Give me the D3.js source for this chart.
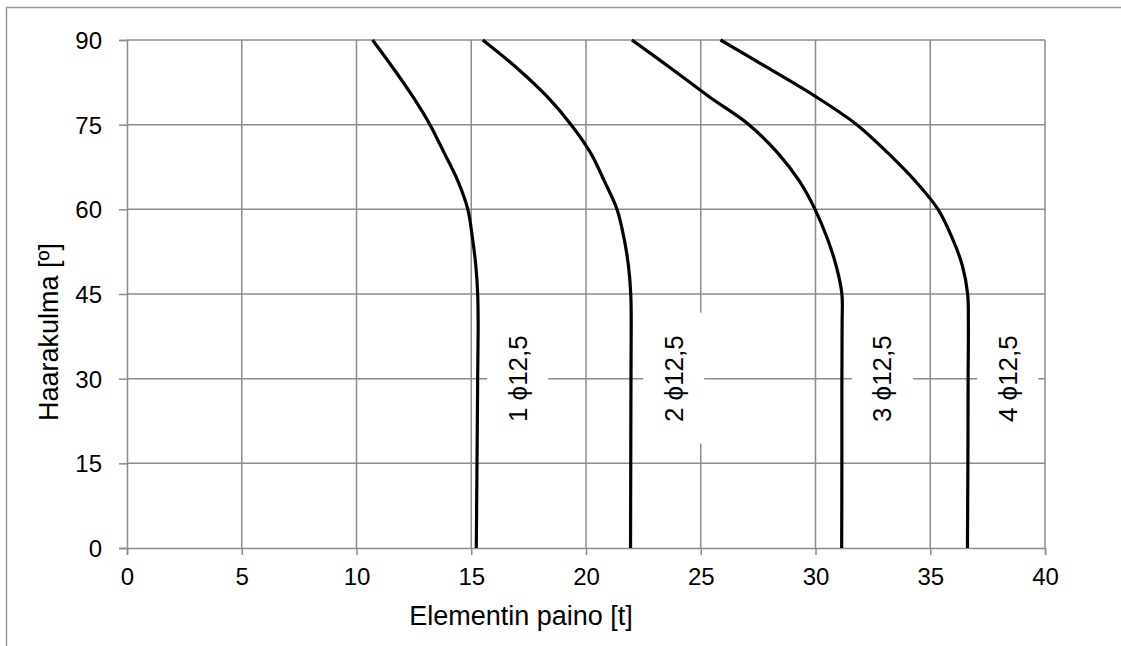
<!DOCTYPE html>
<html>
<head>
<meta charset="utf-8">
<script src="https://cdn.jsdelivr.net/npm/d3@7"></script>
<style>
  body { margin: 0; background: #fff; }
  text { font-family: "Liberation Sans", Arial, sans-serif; fill: #000; }
</style>
</head>
<body>
<svg id="chart" width="1121" height="646"></svg>
<script>
// angle (deg) -> element weight (t) for each strand count
const angles = [0, 15, 30, 40, 45, 50, 55, 60, 65, 70, 75, 80, 85, 90]
const series1 = [15.22, 15.25, 15.28, 15.3, 15.28, 15.2, 15.05, 14.85, 14.42, 13.82, 13.2, 12.45, 11.6, 10.7]
const series2 = [21.94, 21.95, 21.96, 21.97, 21.95, 21.85, 21.65, 21.35, 20.8, 20.2, 19.35, 18.3, 17.0, 15.5]
const series3 = [31.14, 31.15, 31.15, 31.16, 31.15, 30.9, 30.5, 29.98, 29.3, 28.35, 27.1, 25.35, 23.7, 22.0]
const series4 = [36.62, 36.64, 36.65, 36.66, 36.63, 36.4, 35.95, 35.34, 34.35, 33.15, 31.8, 30.0, 27.95, 25.86]
const seriesLabels = ['1 \u03D512,5', '2 \u03D512,5', '3 \u03D512,5', '4 \u03D512,5']
const labelX = [17.0, 23.8, 32.9, 38.35]
const labelY = 30
const xTicks = [0, 5, 10, 15, 20, 25, 30, 35, 40]
const yTicks = [0, 15, 30, 45, 60, 75, 90]

const allSeries = [series1, series2, series3, series4]

const margin = { left: 127, top: 40, right: 1045, bottom: 548 }
const gridColor = '#8c8c8c'

const svg = d3.select('#chart')

// outer frame
svg.append('rect')
    .attr('x', 6.5).attr('y', 7.5)
    .attr('width', 1200).attr('height', 700)
    .attr('fill', 'none')
    .attr('stroke', '#9a9a9a')
    .attr('stroke-width', 1.5)

const x = d3.scaleLinear().domain([0, 40]).range([margin.left, margin.right])
const y = d3.scaleLinear().domain([0, 90]).range([margin.bottom, margin.top])

// grid
const grid = svg.append('g')
grid.selectAll('line.v')
    .data(xTicks.slice(1))
    .enter()
    .append('line')
    .attr('x1', d => x(d)).attr('x2', d => x(d))
    .attr('y1', y(0)).attr('y2', y(90))
    .attr('stroke', gridColor).attr('stroke-width', 1.5)
grid.selectAll('line.h')
    .data(yTicks.slice(1))
    .enter()
    .append('line')
    .attr('x1', x(0)).attr('x2', x(40))
    .attr('y1', d => y(d)).attr('y2', d => y(d))
    .attr('stroke', gridColor).attr('stroke-width', 1.5)

// axes
const xAxis = svg.append('g')
    .attr('transform', `translate(0,${y(0)})`)
    .call(d3.axisBottom(x).tickValues(xTicks).tickSize(7).tickPadding(13))
const yAxis = svg.append('g')
    .attr('transform', `translate(${x(0)},0)`)
    .call(d3.axisLeft(y).tickValues(yTicks).tickSize(8).tickPadding(17))
;[xAxis, yAxis].forEach(a => {
    a.select('.domain').attr('stroke', gridColor).attr('stroke-width', 1.5)
    a.selectAll('.tick line').attr('stroke', gridColor).attr('stroke-width', 1.5)
    a.selectAll('.tick text')
        .style('font-family', '"Liberation Sans", Arial, sans-serif')
        .style('font-size', '24px')
        .attr('fill', '#000')
})
yAxis.selectAll('.tick text').attr('dy', '0.36em')

// curves
const line = d3.line()
    .x(d => x(d[0]))
    .y(d => y(d[1]))
    .curve(d3.curveCatmullRom.alpha(0.5))

svg.append('g')
    .selectAll('path')
    .data(allSeries.map(s => s.map((v, i) => [v, angles[i]])))
    .enter()
    .append('path')
    .attr('d', line)
    .attr('fill', 'none')
    .attr('stroke', '#000')
    .attr('stroke-width', 3.2)

// series labels with white boxes
const labels = svg.append('g')
    .selectAll('g')
    .data(seriesLabels)
    .enter()
    .append('g')
    .attr('transform', (d, i) => `translate(${x(labelX[i])},${y(labelY)}) rotate(-90)`)
labels.append('rect')
    .attr('x', -65).attr('y', -30)
    .attr('width', 131).attr('height', 61)
    .attr('fill', '#fff')
labels.append('text')
    .attr('text-anchor', 'middle')
    .attr('dy', '0.36em')
    .style('font-size', '26px')
    .text(d => d)

// axis titles
svg.append('text')
    .attr('x', 521).attr('y', 625)
    .attr('text-anchor', 'middle')
    .style('font-size', '27px')
    .text('Elementin paino [t]')

svg.append('text')
    .attr('transform', 'translate(58,332) rotate(-90)')
    .attr('text-anchor', 'middle')
    .style('font-size', '27px')
    .text('Haarakulma [º]')
</script>
</body>
</html>
